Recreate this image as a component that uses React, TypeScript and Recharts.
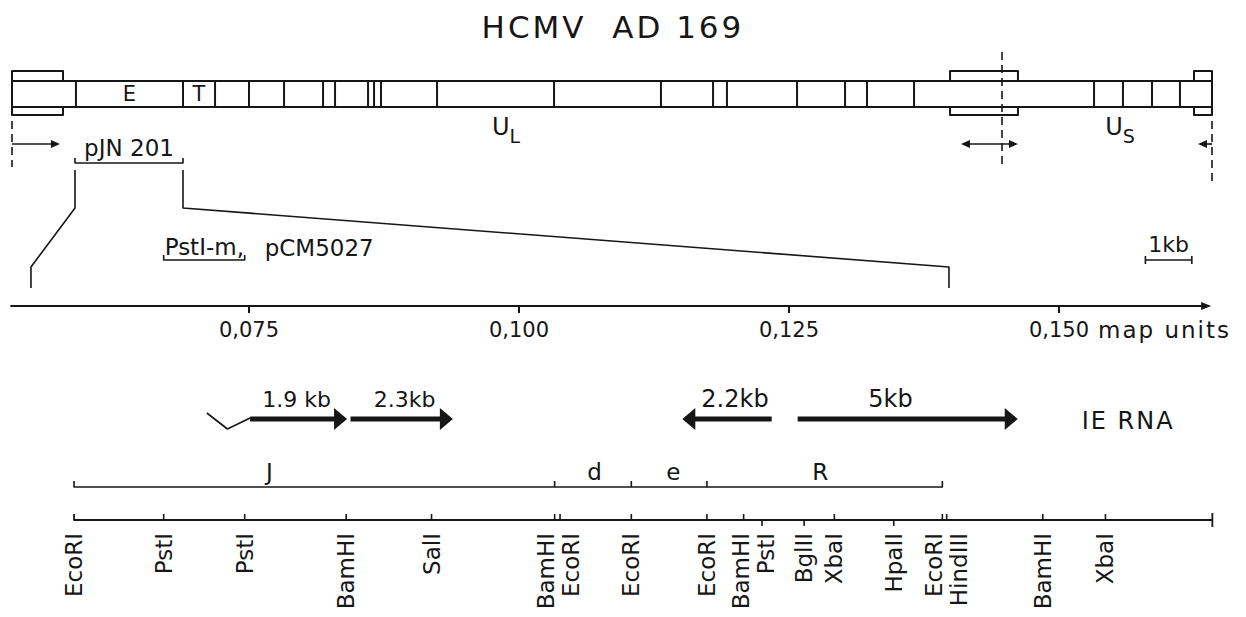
import { ComposedChart, Scatter, XAxis, YAxis } from "recharts";

const CHART_W = 1246;
const CHART_H = 617;
const INK = "#161616";
const FONT = "'DejaVu Sans', 'Liberation Sans', sans-serif";

// ---- genome overview, positions in map units (0 = left end, 1 = right end) ----
const GENOME_EDGES = [
  0.0533, 0.1425, 0.1692, 0.1975, 0.2267, 0.2592, 0.2692, 0.2967, 0.3017, 0.3075, 0.3542, 0.4517,
  0.5408, 0.5842, 0.5958, 0.6542, 0.6942, 0.7125, 0.7517, 0.9017, 0.9258, 0.95, 0.9733,
];
const REPEAT_BOXES = [
  [0, 0.0425],
  [0.7817, 0.8383],
  [0.985, 1],
];
const FRAGMENT_LETTERS = ["E", "T"];
const FRAGMENT_LETTER_POS = [0.0979, 0.1558];
const REGION_SUBS = ["L", "S"];
const REGION_POS = [0.4, 0.911];
const IR_JUNCTION = 0.825;
const PJN201 = [0.0525, 0.1425];
const EXPAND_TOP = [0.0525, 0.1425];
const EXPAND_BOTTOM = [0.0158, 0.7808];

// ---- expanded region, positions in map units ----
const MAP_TICKS = [0.075, 0.1, 0.125, 0.15];
const MAP_TICK_LABELS = ["0,075", "0,100", "0,125", "0,150"];
const MAP_AXIS_RANGE = [0.0529, 0.1639];
const PSTI_M = [0.0671, 0.0746];
const PCM_POS = 0.0815;
const SCALE_BAR = [0.158, 0.1623];

const RNA_LABELS = ["1.9 kb", "2.3kb", "2.2kb", "5kb"];
const RNA_FROM = [0.0751, 0.0844, 0.1234, 0.1258];
const RNA_TO = [0.0838, 0.0936, 0.1154, 0.1459];
const RNA_LABEL_POS = [0.0794, 0.0894, 0.12, 0.1344];
const LEADER = [0.0711, 0.073, 0.0751];
const IE_RNA_POS = 0.1564;

const EC_EDGES = [0.0588, 0.1033, 0.1104, 0.1174, 0.1392];
const EC_NAMES = ["J", "d", "e", "R"];
const EC_LABEL_POS = [0.0769, 0.107, 0.1143, 0.1279];

const SITE_NAMES = [
  "EcoRI", "PstI", "PstI", "BamHI", "SalI", "BamHI", "EcoRI", "EcoRI", "EcoRI",
  "BamHI", "PstI", "BglII", "XbaI", "HpaII", "EcoRI", "HindIII", "BamHI", "XbaI",
];
const SITE_POS = [
  0.0588, 0.0671, 0.0746, 0.084, 0.0919, 0.1033, 0.1038, 0.1104, 0.1174,
  0.1208, 0.1225, 0.1264, 0.1292, 0.1347, 0.1392, 0.1396, 0.1485, 0.1543,
];
const SITE_AXIS_END = 0.1642;

// layout (rows in px from the top, small pixel nudges, font sizes)
const ROW = {
  title: 27,
  boxTop: 71,
  barTop: 81,
  barMid: 94,
  barBottom: 107,
  boxBottom: 115,
  region: 127,
  arrow: 144,
  pjn: 148,
  pjnBracket: 163,
  expTop: 170,
  expBend: 208,
  expLow: 267,
  expBottom: 288,
  pst: 247,
  pstBracket: 260,
  mapAxis: 306,
  mapLabel: 330,
  rnaLabel: 399,
  rna: 419,
  ecLabel: 472,
  ec: 487,
  site: 520,
  siteLabel: 533,
};
const RNA_LABEL_SIZE = [22, 22, 24, 24];
const SITE_DOWN = [10, 11, 13];
const SITE_NUDGE: Record<number, number> = { 5: -9, 6: 11, 9: -3, 10: 4, 14: -8, 15: 12 };

const GENOME_DOMAIN = [-12 / 1200, 1234 / 1200];
const DETAIL_DOMAIN = [0.075 - 249 / 10800, 0.075 + 997 / 10800];

type Pt = { x: number; y: number };

const blank = () => <g />;

function poly(key: string, axis: string, pts: Pt[], width = 2, dash?: string) {
  return (
    <Scatter
      key={key}
      data={pts}
      xAxisId={axis}
      yAxisId="row"
      shape={blank}
      legendType="none"
      isAnimationActive={false}
      line={{ stroke: INK, strokeWidth: width, strokeDasharray: dash, strokeLinejoin: "round", fill: "none" }}
    />
  );
}

type Label = { x: number; y: number; text: string; size?: number; anchor?: string; spacing?: number; sub?: string; rotate?: boolean; dx?: number };

function labels(key: string, axis: string, items: Label[]) {
  return (
    <Scatter
      key={key}
      data={items}
      xAxisId={axis}
      yAxisId="row"
      legendType="none"
      isAnimationActive={false}
      shape={(p: any) => {
        const m: Label = p.payload;
        const x = p.cx + (m.dx ?? 0);
        const y = p.cy;
        return (
          <text
            x={x}
            y={y}
            fill={INK}
            fontFamily={FONT}
            fontSize={m.size ?? 23}
            letterSpacing={m.spacing ?? 0}
            textAnchor={m.anchor ?? "middle"}
            dominantBaseline="central"
            transform={m.rotate ? `rotate(-90 ${x} ${y})` : undefined}
            style={{ whiteSpace: "pre" }}
          >
            {m.text}
            {m.sub ? (
              <tspan dy={9} fontSize={19}>
                {m.sub}
              </tspan>
            ) : null}
          </text>
        );
      }}
    />
  );
}

function heads(key: string, axis: string, pts: { x: number; y: number; dir: number }[], len: number, half: number, over: number) {
  return (
    <Scatter
      key={key}
      data={pts}
      xAxisId={axis}
      yAxisId="row"
      legendType="none"
      isAnimationActive={false}
      shape={(p: any) => {
        const d = p.payload.dir;
        const tip = p.cx + d * over;
        const base = p.cx - d * (len - over);
        return <polygon points={`${tip},${p.cy} ${base},${p.cy - half} ${base},${p.cy + half}`} fill={INK} />;
      }}
    />
  );
}

function genomeLayer() {
  const g = "genome";
  const out = [
    poly("bar-top", g, [{ x: 0, y: ROW.barTop }, { x: 1, y: ROW.barTop }]),
    poly("bar-bottom", g, [{ x: 0, y: ROW.barBottom }, { x: 1, y: ROW.barBottom }]),
    poly("bar-left", g, [{ x: 0, y: ROW.boxTop }, { x: 0, y: ROW.boxBottom }]),
    poly("bar-right", g, [{ x: 1, y: ROW.boxTop }, { x: 1, y: ROW.boxBottom }]),
  ];
  REPEAT_BOXES.forEach(([a, b], i) => {
    out.push(
      poly(`box-t${i}`, g, [
        { x: a, y: ROW.barTop },
        { x: a, y: ROW.boxTop },
        { x: b, y: ROW.boxTop },
        { x: b, y: ROW.barTop },
      ]),
      poly(`box-b${i}`, g, [
        { x: a, y: ROW.barBottom },
        { x: a, y: ROW.boxBottom },
        { x: b, y: ROW.boxBottom },
        { x: b, y: ROW.barBottom },
      ]),
    );
  });
  GENOME_EDGES.forEach((e, i) => {
    out.push(poly(`edge${i}`, g, [{ x: e, y: ROW.barTop }, { x: e, y: ROW.barBottom }]));
  });
  out.push(
    poly("dash-left", g, [{ x: 0, y: 121 }, { x: 0, y: 167 }], 1.6, "8 5"),
    poly("dash-right", g, [{ x: 1, y: 121 }, { x: 1, y: 183 }], 1.6, "8 5"),
    poly("dash-ir", g, [{ x: IR_JUNCTION, y: 52 }, { x: IR_JUNCTION, y: 168 }], 1.6, "8 5"),
    poly("arr-left", g, [{ x: 0, y: ROW.arrow }, { x: 0.0383, y: ROW.arrow }], 1.6),
    poly("arr-ir", g, [{ x: 0.7925, y: ROW.arrow }, { x: 0.8366, y: ROW.arrow }], 1.6),
    poly("arr-right", g, [{ x: 1, y: ROW.arrow }, { x: 0.99, y: ROW.arrow }], 1.6),
    heads(
      "arr-heads",
      g,
      [
        { x: 0.0383, y: ROW.arrow, dir: 1 },
        { x: 0.7925, y: ROW.arrow, dir: -1 },
        { x: 0.8366, y: ROW.arrow, dir: 1 },
        { x: 0.99, y: ROW.arrow, dir: -1 },
      ],
      9,
      4,
      2,
    ),
    poly("pjn-bracket", g, [
      { x: PJN201[0], y: ROW.pjnBracket - 5 },
      { x: PJN201[0], y: ROW.pjnBracket },
      { x: PJN201[1], y: ROW.pjnBracket },
      { x: PJN201[1], y: ROW.pjnBracket - 5 },
    ], 1.6),
  );
  [0, 1].forEach((i) => {
    out.push(
      poly(`expand${i}`, g, [
        { x: EXPAND_TOP[i], y: ROW.expTop },
        { x: EXPAND_TOP[i], y: ROW.expBend },
        { x: EXPAND_BOTTOM[i], y: ROW.expLow },
        { x: EXPAND_BOTTOM[i], y: ROW.expBottom },
      ], 1.6),
    );
  });
  out.push(
    labels("genome-text", g, [
      { x: 0.5008, y: ROW.title, text: "HCMV  AD 169", size: 31, spacing: 3 },
      ...FRAGMENT_LETTERS.map((t, i) => ({ x: FRAGMENT_LETTER_POS[i], y: ROW.barMid, text: t, size: 21 })),
      ...REGION_SUBS.map((s, i) => ({ x: REGION_POS[i], y: ROW.region, text: "U", sub: s, size: 24, anchor: "start" })),
      { x: (PJN201[0] + PJN201[1]) / 2, y: ROW.pjn, text: "pJN 201", size: 23 },
    ]),
  );
  return out;
}

function detailLayer() {
  const d = "detail";
  const out = [
    poly("pst-bracket", d, [
      { x: PSTI_M[0], y: ROW.pstBracket - 5 },
      { x: PSTI_M[0], y: ROW.pstBracket },
      { x: PSTI_M[1], y: ROW.pstBracket },
      { x: PSTI_M[1], y: ROW.pstBracket - 5 },
    ], 1.6),
    poly("scale-l", d, [{ x: SCALE_BAR[0], y: ROW.pstBracket - 4 }, { x: SCALE_BAR[0], y: ROW.pstBracket + 4 }], 1.6),
    poly("scale", d, [{ x: SCALE_BAR[0], y: ROW.pstBracket }, { x: SCALE_BAR[1], y: ROW.pstBracket }], 1.6),
    poly("scale-r", d, [{ x: SCALE_BAR[1], y: ROW.pstBracket - 4 }, { x: SCALE_BAR[1], y: ROW.pstBracket + 4 }], 1.6),
    poly("map-axis", d, [{ x: MAP_AXIS_RANGE[0], y: ROW.mapAxis }, { x: MAP_AXIS_RANGE[1], y: ROW.mapAxis }], 2),
    heads("map-head", d, [{ x: MAP_AXIS_RANGE[1], y: ROW.mapAxis, dir: 1 }], 10, 4, 2),
  ];
  MAP_TICKS.forEach((t, i) => {
    out.push(poly(`mtick${i}`, d, [{ x: t, y: ROW.mapAxis }, { x: t, y: ROW.mapAxis + 7 }], 2));
  });

  // IE RNA arrows
  RNA_FROM.forEach((f, i) => {
    out.push(poly(`rna${i}`, d, [{ x: f, y: ROW.rna }, { x: RNA_TO[i], y: ROW.rna }], 5));
  });
  out.push(
    heads(
      "rna-heads",
      d,
      RNA_TO.map((t, i) => ({ x: t, y: ROW.rna, dir: t > RNA_FROM[i] ? 1 : -1 })),
      13,
      11,
      3,
    ),
    poly("leader", d, [
      { x: LEADER[0], y: ROW.rna - 6 },
      { x: LEADER[1], y: ROW.rna + 10 },
      { x: LEADER[2], y: ROW.rna - 1 },
    ], 1.6),
  );

  // EcoRI fragments
  const first = EC_EDGES[0];
  const last = EC_EDGES[EC_EDGES.length - 1];
  out.push(
    poly("ec-line", d, [
      { x: first, y: ROW.ec - 6 },
      { x: first, y: ROW.ec },
      { x: last, y: ROW.ec },
      { x: last, y: ROW.ec - 6 },
    ], 1.6),
  );
  EC_EDGES.slice(1, -1).forEach((e, i) => {
    out.push(poly(`ec-edge${i}`, d, [{ x: e, y: ROW.ec - 6 }, { x: e, y: ROW.ec }], 1.6));
  });

  // restriction sites
  out.push(
    poly("site-axis", d, [
      { x: SITE_POS[0], y: ROW.site - 6 },
      { x: SITE_POS[0], y: ROW.site },
      { x: SITE_AXIS_END, y: ROW.site },
    ], 1.8),
    poly("site-end", d, [{ x: SITE_AXIS_END, y: ROW.site - 7 }, { x: SITE_AXIS_END, y: ROW.site + 7 }], 1.8),
  );
  SITE_POS.slice(1).forEach((p, j) => {
    const i = j + 1;
    const down = SITE_DOWN.includes(i);
    out.push(
      poly(`site${i}`, d, [{ x: p, y: ROW.site }, { x: p, y: down ? ROW.site + 6 : ROW.site - 6 }], 1.6),
    );
  });

  out.push(
    labels("detail-text", d, [
      { x: PSTI_M[0], y: ROW.pst, text: "PstI-m,", size: 23, anchor: "start", dx: 1 },
      { x: PCM_POS, y: ROW.pst + 1, text: "pCM5027", size: 23 },
      { x: (SCALE_BAR[0] + SCALE_BAR[1]) / 2, y: ROW.pst - 3, text: "1kb", size: 22 },
      ...MAP_TICKS.map((t, i) => ({ x: t, y: ROW.mapLabel, text: MAP_TICK_LABELS[i], size: 21 })),
      { x: MAP_TICKS[3], y: ROW.mapLabel, text: "map units", size: 23, spacing: 2, anchor: "start", dx: 39 },
      ...RNA_LABEL_POS.map((p, i) => ({ x: p, y: ROW.rnaLabel, text: RNA_LABELS[i], size: RNA_LABEL_SIZE[i] })),
      { x: IE_RNA_POS, y: ROW.rna + 2, text: "IE RNA", size: 24, spacing: 2 },
      ...EC_LABEL_POS.map((p, i) => ({ x: p, y: ROW.ecLabel, text: EC_NAMES[i], size: 23 })),
      ...SITE_POS.map((p, i) => ({
        x: p,
        y: ROW.siteLabel,
        text: SITE_NAMES[i],
        size: 23,
        anchor: "end",
        rotate: true,
        dx: SITE_NUDGE[i] ?? 0,
      })),
    ]),
  );
  return out;
}

export default function App() {
  return (
    <div style={{ width: CHART_W, height: CHART_H, background: "#fff" }}>
      <style>{"body{margin:0;background:#fff}"}</style>
      <ComposedChart width={CHART_W} height={CHART_H} margin={{ top: 0, right: 0, bottom: 0, left: 0 }}>
        <XAxis xAxisId="genome" type="number" dataKey="x" domain={GENOME_DOMAIN} allowDataOverflow hide />
        <XAxis xAxisId="detail" type="number" dataKey="x" domain={DETAIL_DOMAIN} allowDataOverflow hide />
        <YAxis yAxisId="row" type="number" dataKey="y" domain={[0, CHART_H]} reversed allowDataOverflow hide />
        {genomeLayer()}
        {detailLayer()}
      </ComposedChart>
    </div>
  );
}
